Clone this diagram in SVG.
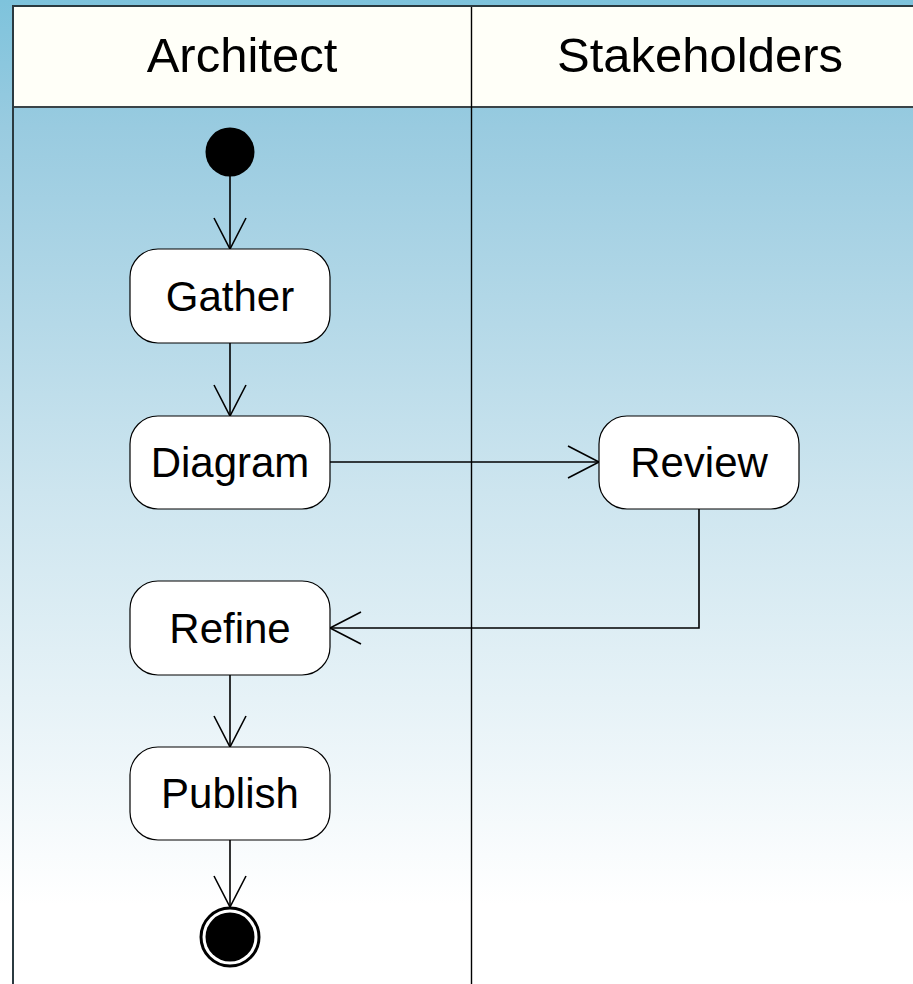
<svg xmlns="http://www.w3.org/2000/svg" width="913" height="984" viewBox="0 0 913 984">
  <defs>
    <linearGradient id="bg" x1="0" y1="0" x2="0" y2="984" gradientUnits="userSpaceOnUse">
      <stop offset="0" stop-color="#7ec3dc"/>
      <stop offset="0.13" stop-color="#99cbe0"/>
      <stop offset="0.5" stop-color="#cde5ef"/>
      <stop offset="0.92" stop-color="#ffffff"/>
      <stop offset="1" stop-color="#ffffff"/>
    </linearGradient>
    <marker id="open" viewBox="0 0 34 34" refX="32" refY="17" markerWidth="34" markerHeight="34" markerUnits="userSpaceOnUse" orient="auto">
      <path d="M1,1 L32,17 L1,33" fill="none" stroke="#000" stroke-width="1.6"/>
    </marker>
    <style>
      .lane-title { font-family: "Liberation Sans", Arial, sans-serif; font-size: 49px; fill: #000; text-anchor: middle; }
      .label { font-family: "Liberation Sans", Arial, sans-serif; font-size: 42px; fill: #000; text-anchor: middle; dominant-baseline: central; }
      .action { fill: #fff; stroke: #000; stroke-width: 1.2; }
      .flow { fill: none; stroke: #000; stroke-width: 1.6; marker-end: url(#open); }
    </style>
  </defs>

  <!-- background -->
  <rect x="0" y="0" width="913" height="984" fill="url(#bg)"/>

  <!-- swimlane frame and headers -->
  <g id="lanes">
    <rect x="13" y="6" width="910" height="101" fill="#fffff8"/>
    <line x1="13" y1="6" x2="913" y2="6" stroke="#2b3a40" stroke-width="2"/>
    <line x1="13" y1="107" x2="913" y2="107" stroke="#3a4448" stroke-width="2"/>
    <line x1="13" y1="5" x2="13" y2="984" stroke="#2b3a40" stroke-width="2"/>
    <line x1="471.5" y1="7" x2="471.5" y2="984" stroke="#000" stroke-width="1.4"/>
    <text class="lane-title" x="242" y="72">Architect</text>
    <text class="lane-title" x="700" y="72">Stakeholders</text>
  </g>

  <!-- control flows -->
  <g id="connectors">
    <line class="flow" x1="230" y1="176" x2="230" y2="249"/>
    <line class="flow" x1="230" y1="343" x2="230" y2="416"/>
    <line class="flow" x1="330" y1="462" x2="599" y2="462"/>
    <polyline class="flow" points="699,509 699,628 330,628"/>
    <line class="flow" x1="230" y1="675" x2="230" y2="747"/>
    <line class="flow" x1="230" y1="840" x2="230" y2="907"/>
  </g>

  <g id="start">
    <circle cx="230" cy="152" r="24.5" fill="#000"/>
  </g>

  <g id="gather">
    <rect class="action" x="130" y="249" width="200" height="94" rx="28" ry="28"/>
    <text class="label" x="230" y="296">Gather</text>
  </g>

  <g id="diagram">
    <rect class="action" x="130" y="416" width="200" height="93" rx="28" ry="28"/>
    <text class="label" x="230" y="462">Diagram</text>
  </g>

  <g id="review">
    <rect class="action" x="599" y="416" width="200" height="93" rx="28" ry="28"/>
    <text class="label" x="699" y="462">Review</text>
  </g>

  <g id="refine">
    <rect class="action" x="130" y="581" width="200" height="94" rx="28" ry="28"/>
    <text class="label" x="230" y="628">Refine</text>
  </g>

  <g id="publish">
    <rect class="action" x="130" y="747" width="200" height="93" rx="28" ry="28"/>
    <text class="label" x="230" y="793">Publish</text>
  </g>

  <g id="end">
    <circle cx="230" cy="937" r="29" fill="#fff" stroke="#000" stroke-width="3"/>
    <circle cx="230" cy="937" r="24.5" fill="#000"/>
  </g>
</svg>
